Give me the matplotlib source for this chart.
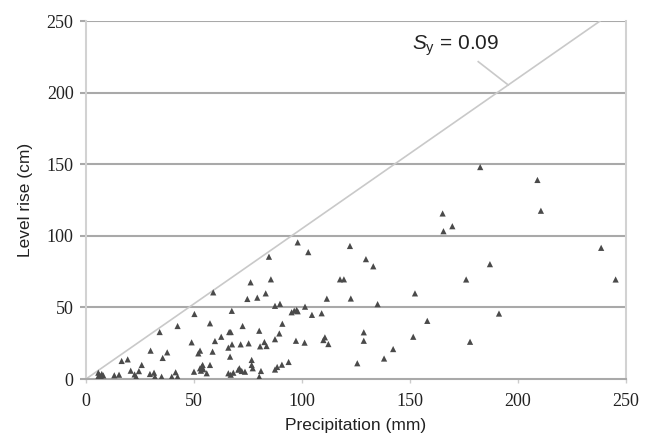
import matplotlib
matplotlib.use("Agg")
import matplotlib.pyplot as plt

# ---- data ----
precip_mm = [5.7, 6.3, 7.0, 5.6, 8.0, 7.3, 13.1, 15.3, 16.5, 19.3,
             20.7, 22.5, 23.2, 24.5, 25.8, 29.6, 31.5, 31.9, 29.9, 34.1,
             35.0, 35.5, 37.6, 39.7, 41.5, 42.4, 42.4, 48.9, 50.0, 50.2,
             52.0, 52.8, 52.8, 53.6, 54.3, 53.2, 54.0, 55.9, 57.4, 57.4,
             58.6, 58.9, 59.7, 62.6, 65.9, 65.9, 68.2, 67.0, 66.7, 66.3,
             67.0, 67.6, 67.5, 71.0, 72.1, 73.6, 70.5, 71.6, 72.5, 74.7,
             75.3, 76.2, 76.7, 76.7, 77.2, 79.3, 80.2, 80.2, 81.0, 80.6,
             82.6, 83.6, 83.2, 84.7, 85.6, 87.5, 87.5, 89.8, 87.5, 88.5,
             90.7, 89.5, 90.9, 93.8, 95.2, 96.4, 97.5, 98.0, 97.2, 98.0,
             101.2, 101.4, 102.9, 104.6, 109.1, 110.6, 109.9, 112.2, 111.5, 117.6,
             119.4, 122.2, 122.6, 125.6, 128.6, 128.6, 129.6, 133.0, 135.0, 138.0,
             142.2, 151.5, 152.3, 158.0, 165.1, 165.5, 169.6, 176.0, 177.8, 182.5,
             187.0, 191.2, 209.0, 210.6, 238.5, 245.2]
level_rise_cm = [4.4, 2.8, 1.6, 1.6, 2.5, 3.5, 2.6, 3.0, 12.6, 13.7,
                 5.8, 3.2, 1.6, 5.5, 9.8, 3.5, 4.4, 1.6, 19.8, 32.8,
                 1.6, 14.7, 18.6, 1.6, 4.7, 1.6, 37.0, 25.6, 5.1, 45.4,
                 17.9, 19.8, 7.5, 8.6, 6.8, 5.8, 9.8, 4.0, 9.8, 38.9,
                 19.1, 60.5, 26.5, 29.5, 21.9, 4.0, 4.4, 3.0, 15.6, 32.8,
                 32.8, 24.2, 47.6, 7.5, 5.6, 5.1, 6.5, 24.2, 37.0, 55.9,
                 24.9, 67.5, 13.3, 9.8, 7.5, 56.8, 33.7, 1.6, 5.6, 22.8,
                 25.8, 23.0, 59.8, 85.4, 69.6, 27.8, 51.1, 52.5, 6.6, 8.4,
                 10.0, 31.8, 38.6, 11.9, 46.6, 47.7, 48.2, 47.3, 26.7, 95.4,
                 25.4, 50.5, 88.6, 44.8, 45.9, 29.1, 27.2, 24.4, 56.1, 69.6,
                 69.6, 92.9, 56.2, 11.0, 32.6, 26.7, 83.7, 78.7, 52.3, 14.3,
                 20.9, 29.5, 59.8, 40.6, 115.6, 103.2, 106.7, 69.5, 26.0, 148.0,
                 80.2, 45.7, 139.0, 117.5, 91.6, 69.5]

# Sy = 0.09 reference line (end points)
line_x = [0, 238]
line_y = [0, 250]
annot_text = "$\\mathit{S}_\\mathrm{y}$ = 0.09"
annot_xy = [151, 230]
leader_x = [181.6, 195.5]
leader_y = [221.6, 205.3]

x_ticks = [0, 50, 100, 150, 200, 250]
y_ticks = [0, 50, 100, 150, 200, 250]
x_label = "Precipitation (mm)"
y_label = "Level rise (cm)"

# ---- figure ----
plt.rcParams['mathtext.fontset'] = 'custom'
plt.rcParams['mathtext.rm'] = 'Liberation Sans'
plt.rcParams['mathtext.it'] = 'Liberation Sans:italic'

fig = plt.figure(figsize=(6.53, 4.37), dpi=100)
ax = fig.add_axes([86 / 653, 1 - 379 / 437, 540 / 653, 358 / 437])

grid_c = "#a9a9a9"
for yv in y_ticks[1:]:
    ax.axhline(yv, color=grid_c, lw=1.5, zorder=1)

ax.plot(line_x, line_y, color="#c9c9c9", lw=1.2, zorder=2)
ax.plot(leader_x, leader_y, color="#c9c9c9", lw=1.2, zorder=2)
ax.text(annot_xy[0], annot_xy[1], annot_text, fontsize=15,
        family="Liberation Sans", color="#222222", ha="left", va="baseline")

ax.scatter(precip_mm, level_rise_cm, marker="^", s=20, color="#4a4a4a",
           edgecolors="none", zorder=3)

ax.set_xlim(0, 250)
ax.set_ylim(0, 250)
ax.set_xticks(x_ticks)
ax.set_yticks(y_ticks)
ax.set_xticklabels([str(v) for v in x_ticks], family="Liberation Serif", fontsize=13, color="#222222")
ax.set_yticklabels([str(v) for v in y_ticks], family="Liberation Serif", fontsize=13, color="#222222")
ax.tick_params(axis="y", length=4, width=1.5, color=grid_c, pad=5)
ax.tick_params(axis="x", length=3, width=1, color="#cccccc", pad=7)

ax.set_xlabel(x_label, family="Liberation Sans", fontsize=12.5, color="#222222", labelpad=6)
ax.set_ylabel(y_label, family="Liberation Sans", fontsize=12.5, color="#222222", labelpad=10)

for side in ["left", "right"]:
    ax.spines[side].set_color("#d2d2d2")
    ax.spines[side].set_linewidth(1.5)
ax.spines["bottom"].set_color(grid_c)
ax.spines["bottom"].set_linewidth(1.5)
ax.spines["top"].set_visible(False)

fig.savefig("out.png", dpi=100)
